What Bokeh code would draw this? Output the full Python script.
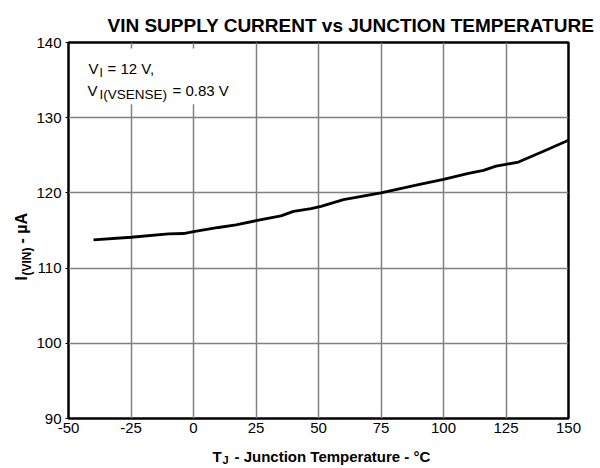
import math
from bokeh.plotting import figure
from bokeh.models import Label, BoxAnnotation, FixedTicker, Range1d
from bokeh.embed import file_html
from bokeh.resources import INLINE

# ---- data ----
temps = [-40, -25, -10, -4, 0, 10, 17, 25, 35, 40, 47, 51, 60, 75, 90, 100, 110, 116, 121, 130, 140, 150]
current = [113.75, 114.1, 114.55, 114.6, 114.85, 115.4, 115.75, 116.3, 116.95, 117.55, 117.9, 118.2,
           119.1, 120.0, 121.1, 121.8, 122.6, 123.0, 123.55, 124.1, 125.55, 127.0]
x_ticks = [-50, -25, 0, 25, 50, 75, 100, 125, 150]
y_ticks = [90, 100, 110, 120, 130, 140]

FONT = "Liberation Sans"

p = figure(frame_width=500, frame_height=376, output_backend="svg", toolbar_location=None,
           x_range=Range1d(-50, 150), y_range=Range1d(90, 140),
           min_border_left=68, min_border_right=32, min_border_top=42, min_border_bottom=50)
p.title.visible = False
p.outline_line_color = "black"
p.outline_line_width = 2.5
p.background_fill_color = "white"
p.border_fill_color = "white"

p.xaxis.ticker = FixedTicker(ticks=x_ticks)
p.yaxis.ticker = FixedTicker(ticks=y_ticks)
p.xaxis.major_label_overrides = {t: str(t) for t in x_ticks}
for ax in (p.xaxis[0], p.yaxis[0]):
    ax.axis_line_color = None
    ax.major_tick_in = 0
    ax.minor_tick_line_color = None
    ax.major_label_text_font = FONT
    ax.major_label_text_font_size = "15px"
    ax.major_label_text_color = "black"
    ax.major_label_standoff = 4
p.xaxis.major_tick_out = 0
p.yaxis.major_tick_out = 3
p.yaxis.major_tick_line_color = "black"

p.xgrid.ticker = FixedTicker(ticks=x_ticks)
p.ygrid.ticker = FixedTicker(ticks=y_ticks)
p.grid.grid_line_color = "#808080"
p.grid.grid_line_width = 1.5

p.line(temps, current, line_color="black", line_width=2.8)

# white box behind the condition text (kept just inside the frame border)
p.add_layout(BoxAnnotation(left=-49.4, right=18.5, top=139.2, bottom=131.8,
                           fill_color="white", fill_alpha=1.0, line_color=None))

def lab(x, y, text, dx, dy, size, bold=False, angle=0.0, place="center"):
    lbl = Label(x=x, y=y, x_offset=dx, y_offset=dy, text=text, text_font=FONT,
                text_font_size=size, text_font_style="bold" if bold else "normal",
                text_color="black", angle=angle, text_align="left",
                text_baseline="alphabetic")
    p.add_layout(lbl, place)

# title (anchored at frame top-left)
lab(-50, 140, "VIN SUPPLY CURRENT vs JUNCTION TEMPERATURE", 39, 17, "19px", bold=True, place="above")

# condition text
lab(-50, 140, "V", 20, -26, "15px")
lab(-50, 140, "I", 31, -30, "12px")
lab(-50, 140, "= 12 V,", 39, -26, "15px")
lab(-50, 140, "V", 19, -48, "15px")
lab(-50, 140, "I(VSENSE)", 31, -52, "13.5px")
lab(-50, 140, "= 0.83 V", 104, -48, "15px")

# x axis label (anchored at frame bottom-left)
lab(-50, 90, "T", 144, -38, "15px", bold=True, place="below")
lab(-50, 90, "J", 154, -41, "11px", bold=True, place="below")
lab(-50, 90, "- Junction Temperature - °C", 166, -38, "15px", bold=True, place="below")

# y axis label (anchored at frame middle-left); placed in the bottom panel so it is not clipped
lab(-50, 115, "I", -47, -50, "16px", bold=True, angle=math.pi / 2, place="below")
lab(-50, 115, "(VIN)", -42, -45, "12px", bold=True, angle=math.pi / 2, place="below")
lab(-50, 115, "- µA", -47, -13, "16px", bold=True, angle=math.pi / 2, place="below")

open("out.html", "w").write(file_html(p, INLINE))
